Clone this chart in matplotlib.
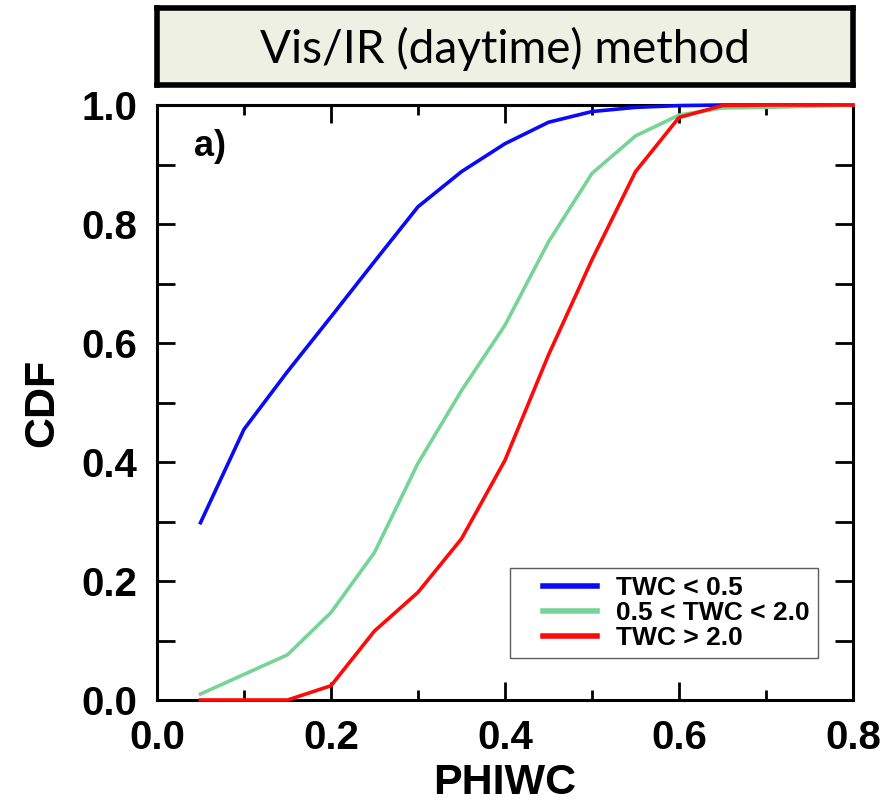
import matplotlib
matplotlib.use("Agg")
import matplotlib.pyplot as plt
from matplotlib.ticker import FixedLocator
import numpy as np

phiwc = [0.05, 0.10, 0.15, 0.20, 0.25, 0.30, 0.35, 0.40, 0.45, 0.50, 0.55, 0.60, 0.65, 0.70, 0.75, 0.80]
cdf_low = [0.298, 0.455, 0.552, 0.644, 0.737, 0.829, 0.888, 0.935, 0.971, 0.989, 0.996, 0.999, 1.0, 1.0, 1.0, 1.0]
cdf_mid = [0.010, 0.043, 0.076, 0.147, 0.248, 0.398, 0.520, 0.630, 0.770, 0.885, 0.948, 0.983, 0.995, 0.996, 0.998, 1.0]
cdf_high = [0.0, 0.0, 0.0, 0.024, 0.116, 0.181, 0.271, 0.403, 0.580, 0.740, 0.888, 0.979, 0.999, 1.0, 1.0, 1.0]
labels = ["TWC < 0.5", "0.5 < TWC < 2.0", "TWC > 2.0"]
colors = ["#0a0af5", "#77d497", "#ff0a0a"]
title = "Vis/IR (daytime) method"

plt.rcParams['font.family'] = ['Liberation Sans', 'DejaVu Sans']

fig = plt.figure(figsize=(8.88, 8.07), dpi=100)
W, H = 888, 807
ax = fig.add_axes([157 / W, (H - 700) / H, 696 / W, 595 / H])

for y, c, lab in zip([cdf_low, cdf_mid, cdf_high], colors, labels):
    ax.plot(phiwc, y, color=c, lw=2.6, label=lab, clip_on=False, zorder=3)

ax.set_xlim(0, 0.8)
ax.set_ylim(0, 1.0)
ax.xaxis.set_major_locator(FixedLocator([0.0, 0.2, 0.4, 0.6, 0.8]))
ax.xaxis.set_minor_locator(FixedLocator([0.1, 0.3, 0.5, 0.7]))
ax.yaxis.set_major_locator(FixedLocator([0.0, 0.2, 0.4, 0.6, 0.8, 1.0]))
ax.yaxis.set_minor_locator(FixedLocator([0.1, 0.3, 0.5, 0.7, 0.9]))
ax.set_xticklabels(["0.0", "0.2", "0.4", "0.6", "0.8"])
ax.set_yticklabels(["0.0", "0.2", "0.4", "0.6", "0.8", "1.0"])
ax.tick_params(axis='both', which='major', direction='in', length=13, width=2.0,
               top=True, right=True, labelsize=29, pad=14)
ax.tick_params(axis='x', which='minor', direction='in', length=7, width=2.0, top=True)
ax.tick_params(axis='y', which='minor', direction='in', length=13, width=2.0, right=True)
for lbl in ax.get_xticklabels() + ax.get_yticklabels():
    lbl.set_fontweight('bold')
for s in ax.spines.values():
    s.set_linewidth(2.2)

ax.set_xlabel("PHIWC", fontsize=31, fontweight='bold', labelpad=4)
ax.set_ylabel("CDF", fontsize=31, fontweight='bold', labelpad=14)

ax.text(0.053, 0.96, "a)", transform=ax.transAxes, fontsize=26, fontweight='bold',
        ha='left', va='top')

leg = ax.legend(loc='lower right', bbox_to_anchor=(0.9497, 0.07),
                prop={'weight': 'bold', 'size': 19}, frameon=True, fancybox=False,
                edgecolor='#333333', handlelength=3.0, handletextpad=0.75,
                labelspacing=0.05, borderpad=0.3, borderaxespad=0)
leg.get_frame().set_linewidth(1.0)
for l in leg.get_lines():
    l.set_linewidth(4)
    xd = np.asarray(l.get_xdata(), dtype=float)
    if xd.size >= 2:
        x0, x1 = xd.min(), xd.max()
        l.set_xdata(np.linspace(x0 + 0.32 * (x1 - x0), x1, xd.size))

# title box
tax = fig.add_axes([157 / W, 1 - 85 / H, 696 / W, 77 / H])
tax.set_facecolor('#edf0e2')
tax.set_xticks([])
tax.set_yticks([])
for s in tax.spines.values():
    s.set_linewidth(4)
tax.text(0.5, 0.47, title, ha='center', va='center', fontsize=33,
         family=['Lato', 'DejaVu Sans'], transform=tax.transAxes)

fig.savefig("out.png", dpi=100)
